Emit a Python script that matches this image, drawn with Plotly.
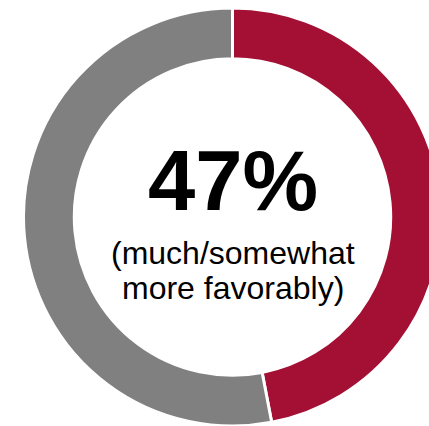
import plotly.graph_objects as go

# Share of respondents and the remainder
labels = ["Much/somewhat more favorably", "Other"]
values = [47, 53]
colors = ["#A31034", "#808080"]

headline = "47%"
caption_lines = ["(much/somewhat", "more favorably)"]

W, H = 465, 426          # figure canvas (page shows the left 429 px)
cx, cy, r = 232.5, 217, 209

fig = go.Figure(
    go.Pie(
        labels=labels,
        values=values,
        hole=0.757,
        sort=False,
        direction="clockwise",
        rotation=0,
        textinfo="none",
        hoverinfo="label+percent",
        marker=dict(colors=colors, line=dict(color="white", width=3)),
        domain=dict(
            x=[(cx - r) / W, (cx + r) / W],
            y=[(H - cy - r) / H, (H - cy + r) / H],
        ),
        showlegend=False,
    )
)

font_family = "Liberation Sans, Arial, sans-serif"
annotations = [
    dict(text=f"<b>{headline}</b>", x=cx / W, y=(H - 180.5) / H,
         font=dict(size=85, color="black", family=font_family)),
    dict(text=caption_lines[0], x=cx / W, y=(H - 252.5) / H,
         font=dict(size=32, color="black", family=font_family)),
    dict(text=caption_lines[1], x=cx / W, y=(H - 287.5) / H,
         font=dict(size=32, color="black", family=font_family)),
]
for a in annotations:
    a.update(xref="paper", yref="paper", showarrow=False,
             xanchor="center", yanchor="middle")

fig.update_layout(
    width=W,
    height=H,
    autosize=False,
    margin=dict(l=0, r=0, t=0, b=0),
    paper_bgcolor="white",
    plot_bgcolor="white",
    annotations=annotations,
)

fig.write_html(
    "out.html",
    post_script="document.documentElement.style.overflow='hidden';"
                "document.body.style.overflow='hidden';"
                "document.body.style.margin='0';",
)
